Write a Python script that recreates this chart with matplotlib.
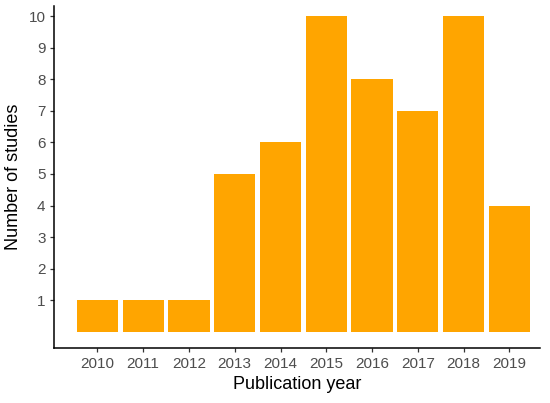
import matplotlib
matplotlib.use("Agg")
from matplotlib import pyplot as plt

years = [2010, 2011, 2012, 2013, 2014, 2015, 2016, 2017, 2018, 2019]
counts = [1, 1, 1, 5, 6, 10, 8, 7, 10, 4]
y_ticks = [1, 2, 3, 4, 5, 6, 7, 8, 9, 10]

plt.rcParams['font.family'] = ['Liberation Sans', 'DejaVu Sans']

fig = plt.figure(figsize=(5.5, 4.03), dpi=100)
ax = fig.add_axes([0.098, 0.136, 0.884, 0.849])

ax.bar(years, counts, width=0.9, color='#FFA500')

ax.set_xlim(2009.05, 2019.67)
ax.set_ylim(-0.52, 10.32)
ax.set_xticks(years)
ax.set_yticks(y_ticks)

for side in ['top', 'right']:
    ax.spines[side].set_visible(False)
for side in ['left', 'bottom']:
    ax.spines[side].set_linewidth(1.1)
    ax.spines[side].set_color('black')

ax.tick_params(axis='both', length=3, width=0.9, color='#333333',
               labelcolor='#4D4D4D', labelsize=11, pad=3)

ax.set_xlabel("Publication year", fontsize=13, labelpad=4)
ax.set_ylabel("Number of studies", fontsize=13, labelpad=5)

plt.savefig("out.png", dpi=100)
